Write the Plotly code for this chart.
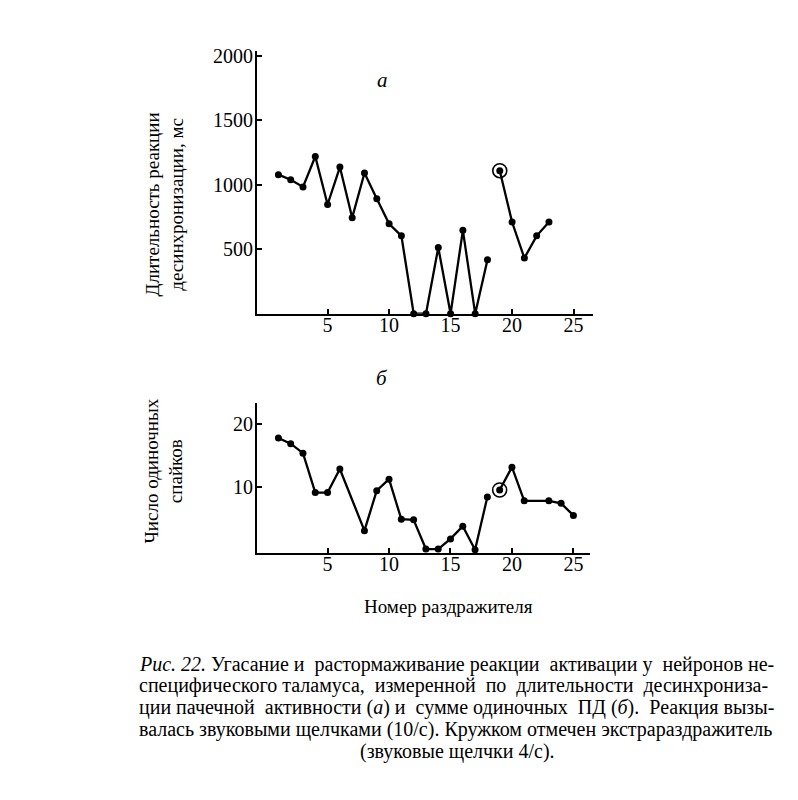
import plotly.graph_objects as go

# ---------------- data ----------------
# panel a: duration of desynchronization reaction, ms
stim_a_pre = [1, 2, 3, 4, 5, 6, 7, 8, 9, 10, 11, 12, 13, 14, 15, 16, 17, 18]
dur_a_pre = [1077, 1038, 982, 1218, 846, 1136, 744, 1090, 890, 697, 603, 0, 0, 513, 0, 646, 0, 418]
stim_a_post = [19, 20, 21, 22, 23]
dur_a_post = [1108, 710, 431, 603, 710]
extra_a_x = [19]
extra_a_y = [1108]

# panel b: number of single spikes
stim_b_pre = [1, 2, 3, 4, 5, 6, 8, 9, 10, 11, 12, 13, 14, 15, 16, 17, 18]
spikes_b_pre = [17.8, 16.9, 15.4, 9.2, 9.2, 12.9, 3.2, 9.5, 11.3, 5.0, 4.9, 0.3, 0.3, 1.9, 3.9, 0.2, 8.5]
stim_b_post = [19, 20, 21, 23, 24, 25]
spikes_b_post = [9.6, 13.2, 7.9, 7.9, 7.5, 5.6]
extra_b_x = [19]
extra_b_y = [9.6]

x_ticks = [5, 10, 15, 20, 25]
ya_ticks = [500, 1000, 1500, 2000]
yb_ticks = [10, 20]

NB = "\u00a0"
caption_lines = [
    "<i>Рис. 22.</i> Угасание и" + NB + " растормаживание реакции" + NB + " активации у" + NB + " нейронов не-",
    ("специфического таламуса," + NB + " измеренной" + NB + " по" + NB + " длительности" + NB + " десинхрониза-"),
    "ции пачечной" + NB + " активности (<i>а</i>) и" + NB + " сумме одиночных" + NB + " ПД (<i>б</i>)." + NB + " Реакция вызы-",
    "валась звуковыми щелчками (10/с). Кружком отмечен экстрараздражитель",
]
caption_last = "(звуковые щелчки 4/с)."

W, H = 798, 800
SERIF = "Liberation Serif"


def px(x):
    return x / W


def py(y):
    return 1 - y / H


fig = go.Figure()

line_style = dict(color="black", width=2.3)
mk = dict(color="black", size=7)

for xs, ys, xa, ya in [
    (stim_a_pre, dur_a_pre, "x", "y"),
    (stim_a_post, dur_a_post, "x", "y"),
    (stim_b_pre, spikes_b_pre, "x2", "y2"),
    (stim_b_post, spikes_b_post, "x2", "y2"),
]:
    fig.add_trace(go.Scatter(x=xs, y=ys, mode="lines+markers", line=line_style,
                             marker=mk, xaxis=xa, yaxis=ya, cliponaxis=False,
                             showlegend=False, hoverinfo="skip"))

for xs, ys, xa, ya in [(extra_a_x, extra_a_y, "x", "y"), (extra_b_x, extra_b_y, "x2", "y2")]:
    fig.add_trace(go.Scatter(x=xs, y=ys, mode="markers",
                             marker=dict(symbol="circle-open", size=14, color="black",
                                         line=dict(width=1.6, color="black")),
                             xaxis=xa, yaxis=ya, cliponaxis=False,
                             showlegend=False, hoverinfo="skip"))

axis_common = dict(showline=True, linecolor="black", linewidth=2, showgrid=False,
                   zeroline=False, ticks="inside", ticklen=5, tickwidth=1.5,
                   tickcolor="black", tickfont=dict(family=SERIF, size=20, color="black"))

fig.update_layout(
    width=W, height=H, autosize=False,
    margin=dict(l=0, r=0, t=0, b=0),
    paper_bgcolor="white", plot_bgcolor="white",
    xaxis=dict(domain=[px(257), px(593)], range=[-0.74, 26.58], anchor="y",
               tickvals=x_ticks, ticklabelstandoff=-8, **axis_common),
    yaxis=dict(domain=[py(310), py(45)], range=[0, 2038], anchor="x",
               tickvals=ya_ticks, ticklabelstandoff=-2, **axis_common),
    xaxis2=dict(domain=[px(257), px(590)], range=[-0.74, 26.35], anchor="y2",
                tickvals=x_ticks, ticklabelstandoff=-8, **axis_common),
    yaxis2=dict(domain=[py(551), py(400)], range=[-0.3, 23.3], anchor="x2",
                tickvals=yb_ticks, ticklabelstandoff=-2, **axis_common),
)

ann = []
# panel letters
ann.append(dict(x=px(382), y=py(75), text="<i>а</i>", showarrow=False,
                font=dict(family=SERIF, size=21, color="black")))
ann.append(dict(x=px(382), y=py(375), text="<i>б</i>", showarrow=False,
                font=dict(family=SERIF, size=21, color="black")))
# axis titles
ann.append(dict(x=px(164), y=py(200), text="Длительность реакции<br>десинхронизации, мс",
                textangle=-90, showarrow=False,
                font=dict(family=SERIF, size=19, color="black")))
ann.append(dict(x=px(164), y=py(469), text="Число одиночных<br>спайков",
                textangle=-90, showarrow=False,
                font=dict(family=SERIF, size=19, color="black")))
ann.append(dict(x=px(448), y=py(605), text="Номер раздражителя", showarrow=False,
                font=dict(family=SERIF, size=19, color="black")))
# caption
for i, t in enumerate(caption_lines):
    ann.append(dict(x=px(137), y=py(663 + 22 * i), text=t, showarrow=False,
                    xanchor="left", yanchor="middle",
                    font=dict(family=SERIF, size=20, color="black")))
ann.append(dict(x=px(457), y=py(751), text=caption_last, showarrow=False,
                xanchor="center", yanchor="middle",
                font=dict(family=SERIF, size=20, color="black")))

for a in ann:
    a.setdefault("xref", "paper")
    a.setdefault("yref", "paper")
    a.setdefault("xanchor", "center")
    a.setdefault("yanchor", "middle")
fig.update_layout(annotations=ann)

fig.write_html("out.html")
